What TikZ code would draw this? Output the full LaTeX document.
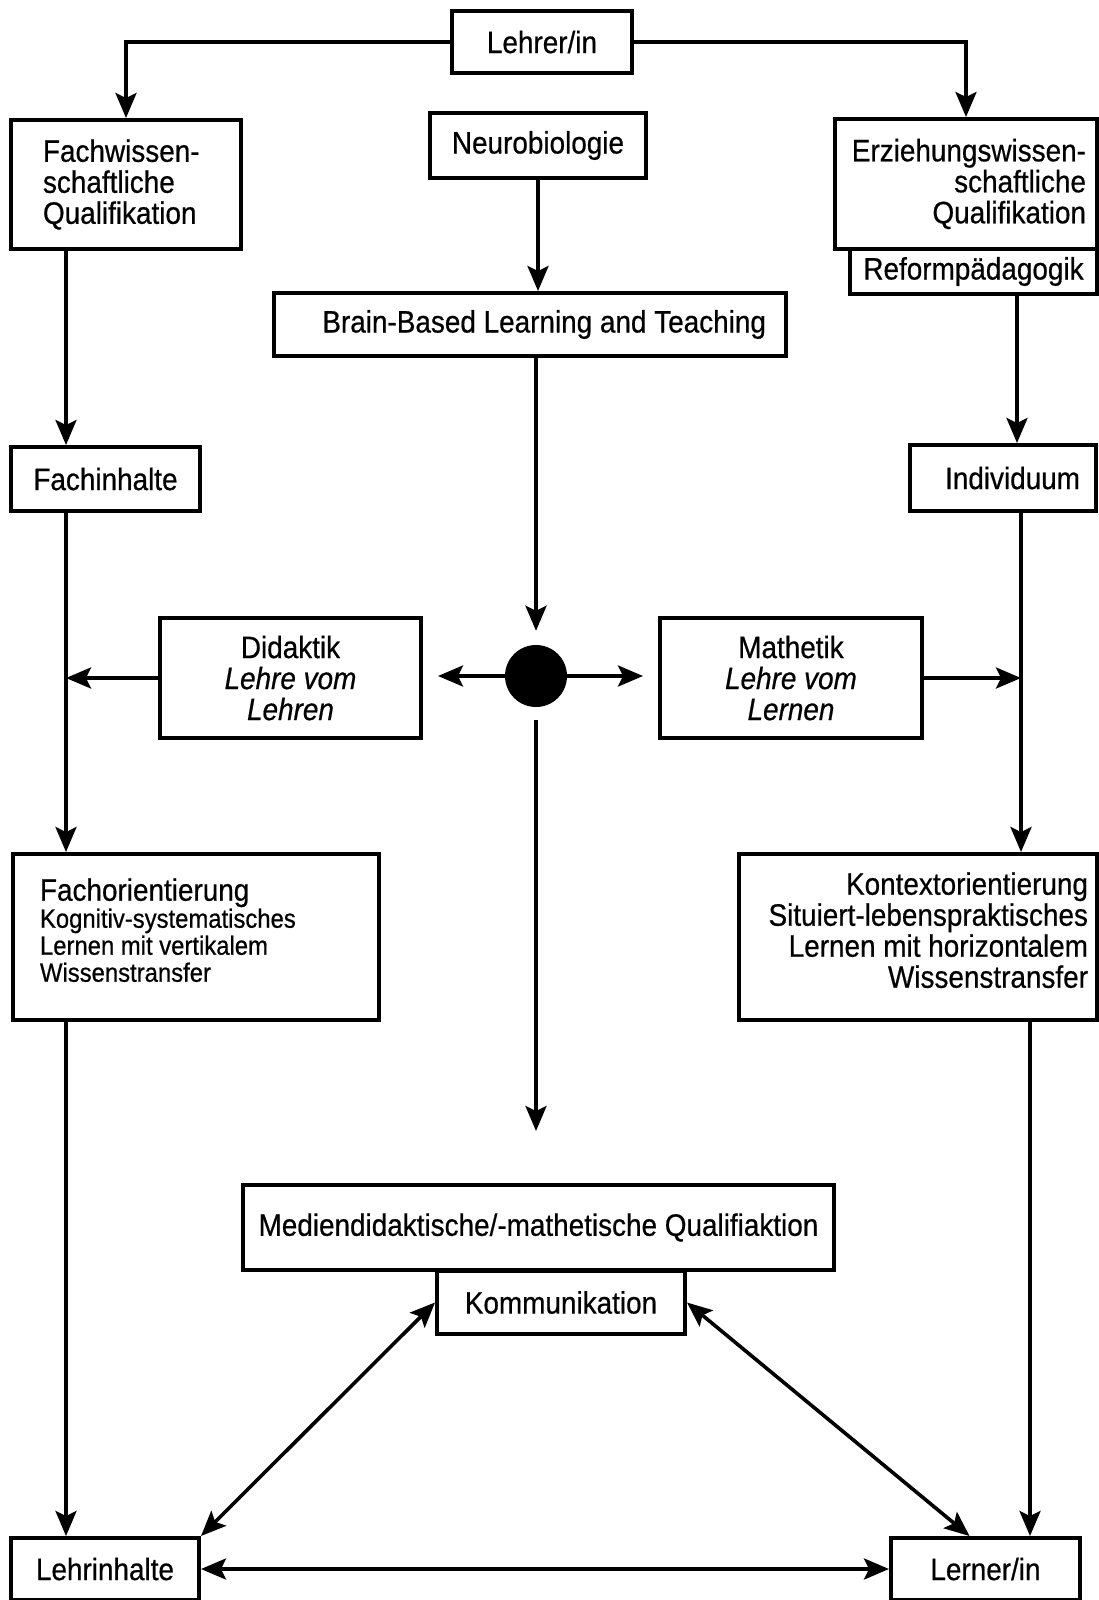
\documentclass[tikz,border=0pt]{standalone}
\usepackage{fontspec}
\usetikzlibrary{arrows.meta}
\newfontfamily\diafont{Liberation Sans}[FakeStretch=0.9,FakeBold=0.6]
\newcommand\dfont{\diafont\fontsize{31}{31}\selectfont}
\newcommand\dsmall{\fontsize{26.5}{27}\selectfont}

\begin{document}
\begin{tikzpicture}[
	  x=1pt, y=-1pt,
	  bx/.style={draw, line width=4pt, font=\dfont, align=center, inner sep=3pt},
	  arr/.style={line width=3.6pt, -{Stealth[length=25pt,width=21pt,inset=5pt]}},
	  darr/.style={line width=3.6pt, {Stealth[length=25pt,width=21pt,inset=5pt]}-{Stealth[length=25pt,width=21pt,inset=5pt]}},
	]
	\useasboundingbox (0,0) rectangle (1099,1600);
	\coordinate (lanel) at (66,0);
	\coordinate (laner) at (1017,0);
	\coordinate (lanem) at (1021,0);
	\coordinate (lanek) at (1030,0);

	\node [bx, minimum width=180pt, minimum height=62pt] (lehrer) at (542,42) {Lehrer/in};
	\node [bx, text width=166pt, inner xsep=32pt, minimum height=129pt, align=flush left] (fachwiss) at (126,184.5) {Fachwissen-\\schaftliche\\Qualifikation};
	\node [bx, minimum width=216pt, minimum height=65pt] (neuro) at (538,145.5) {Neurobiologie};
	\node [bx, text width=240pt, inner xsep=11pt, minimum height=130pt, align=flush right] (erzieh) at (966,184) {Erziehungswissen-\\schaftliche\\Qualifikation};
	\node [bx, minimum width=247pt, minimum height=45pt] (reform) at (973.5,271.5) {Reformpädagogik};
	\node [bx, text width=472pt, inner xsep=20pt, minimum height=63pt, align=flush right] (brain) at (530,324.5) {Brain-Based Learning and Teaching};
	\node [bx, minimum width=189pt, minimum height=64pt] (fachinh) at (105.5,479) {Fachinhalte};
	\node [bx, text width=154pt, inner xsep=16pt, minimum height=66pt, align=flush right] (indiv) at (1003,478) {Individuum};
	\node [bx, minimum width=261pt, minimum height=120pt] (didak) at (290.5,678) {Didaktik\\{\itshape Lehre vom}\\{\itshape Lehren}};
	\node [circle, fill, minimum size=62pt, inner sep=0pt] (dot) at (536,676) {};
	\node [bx, minimum width=262pt, minimum height=120pt] (mathe) at (791,678) {Mathetik\\{\itshape Lehre vom}\\{\itshape Lernen}};
	\node [bx, font=\diafont\dsmall, text width=312pt, inner xsep=27pt, minimum height=166pt, align=flush left] (fachor) at (196,937) {{\fontsize{31}{27}\selectfont Fachorientierung}\\Kognitiv-systematisches\\Lernen mit vertikalem\\Wissenstransfer\\[-13pt]\mbox{}};
	\node [bx, text width=340pt, inner xsep=9pt, minimum height=166pt, align=flush right] (kontext) at (918,937) {Kontextorientierung\\Situiert-lebenspraktisches\\Lernen mit horizontalem\\Wissenstransfer\\[-17pt]\mbox{}};
	\node [bx, minimum width=591pt, minimum height=85pt] (medien) at (538.5,1227.5) {Mediendidaktische/-mathetische Qualifiaktion};
	\node [bx, minimum width=248pt, minimum height=63pt] (kommu) at (561,1302.5) {Kommunikation};
	\node [bx, minimum width=188pt, minimum height=62pt] (lehrinh) at (105,1569) {Lehrinhalte};
	\node [bx, minimum width=189pt, minimum height=62pt] (lerner) at (985.5,1569) {Lerner/in};

	\draw [arr] (lehrer.west) -| (fachwiss.north);
	\draw [arr] (lehrer.east) -| (erzieh.north);
	\draw [arr] (neuro.south) -- (neuro.south |- brain.north);
	\draw [arr] (fachwiss.south -| lanel) -- (fachinh.north -| lanel);
	\draw [arr] (reform.south -| laner) -- (indiv.north -| laner);
	\draw [arr, shorten >=14pt] (brain.south -| dot.north) -- (dot.north);
	\draw [arr, shorten >=15pt] (dot.west) -- (dot.west -| didak.east);
	\draw [arr, shorten >=15pt] (dot.east) -- (dot.east -| mathe.west);
	\draw [arr] (didak.west) -- (didak.west -| lanel);
	\draw [arr] (mathe.east) -- (mathe.east -| lanem);
	\draw [arr] (fachinh.south -| lanel) -- (fachor.north -| lanel);
	\draw [arr] (indiv.south -| lanem) -- (kontext.north -| lanem);
	\draw [arr, shorten <=13pt, shorten >=52pt] (dot.south) -- (dot.south |- medien.north);
	\draw [arr] (fachor.south -| lanel) -- (lehrinh.north -| lanel);
	\draw [arr] (kontext.south -| lanek) -- (lerner.north -| lanek);
	\draw [darr] (kommu.west) -- (lehrinh.north east);
	\draw [darr] (kommu.east) -- ([xshift=-16pt]lerner.north);
	\draw [darr] (lehrinh.east) -- (lerner.west);
\end{tikzpicture}
\end{document}
